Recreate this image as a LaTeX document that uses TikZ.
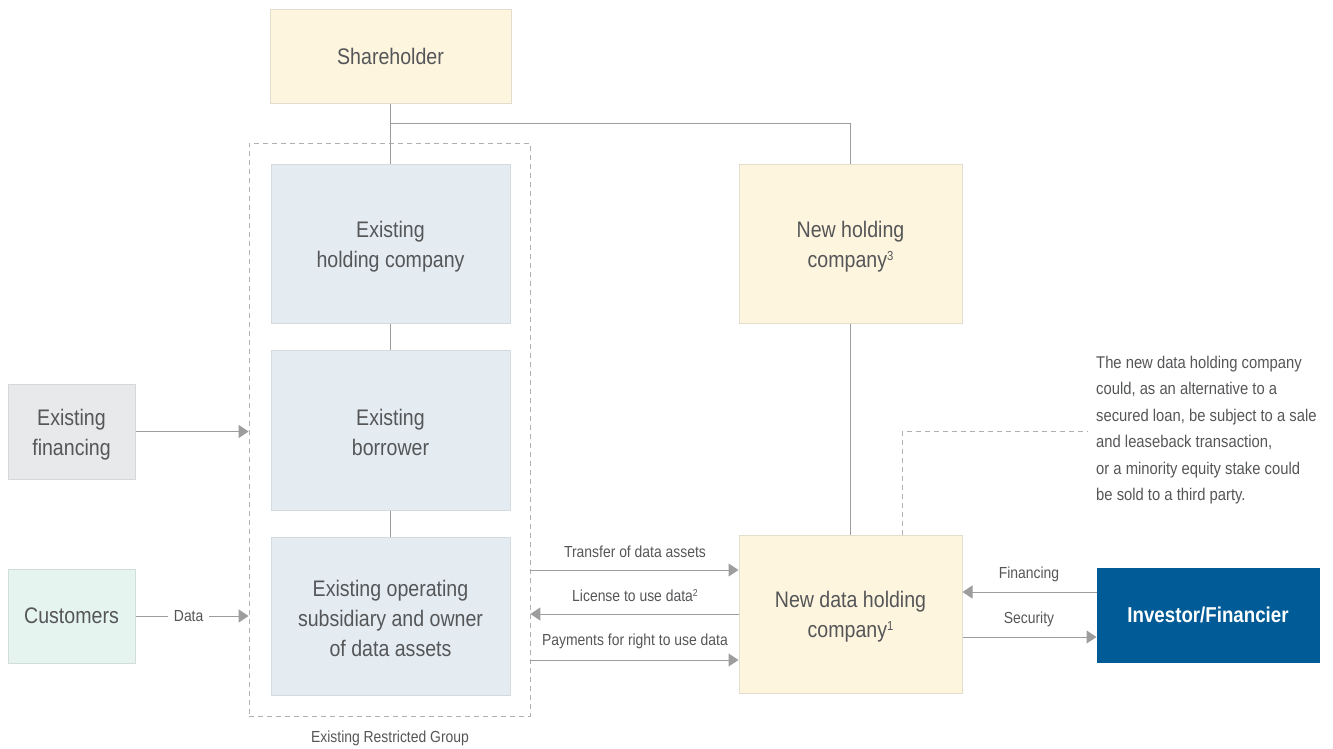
\documentclass[tikz,border=0pt]{standalone}
\usepackage{fontspec}
\setmainfont{Liberation Sans}[FakeStretch=0.87]
\usetikzlibrary{arrows.meta}
\definecolor{txt}{HTML}{555658}
\definecolor{ln}{HTML}{9D9D9D}
\definecolor{yfill}{HTML}{FEF5DF}
\definecolor{ydraw}{HTML}{E2DDCC}
\definecolor{bfill}{HTML}{E4ECF2}
\definecolor{bdraw}{HTML}{D3DBE1}
\definecolor{gfill}{HTML}{E8E9EA}
\definecolor{gdraw}{HTML}{D6D7D8}
\definecolor{mfill}{HTML}{E6F4F0}
\definecolor{mdraw}{HTML}{D3DED9}
\definecolor{navy}{HTML}{005B96}
\newcommand\supmark[1]{\raisebox{7pt}{\fontsize{13}{13}\selectfont #1}}
\newcommand\supsmall[1]{\raisebox{5pt}{\fontsize{10}{10}\selectfont #1}}
\newcommand\tp{\rule{0pt}{22pt}}
\begin{document}
\begin{tikzpicture}[x=1pt,y=-1pt,
  box/.style={draw, line width=1pt, inner sep=0pt, align=center, text=txt,
    font=\fontsize{22.5}{30}\selectfont},
  ybox/.style={box, fill=yfill, draw=ydraw},
  bbox/.style={box, fill=bfill, draw=bdraw},
  gbox/.style={box, fill=gfill, draw=gdraw},
  mbox/.style={box, fill=mfill, draw=mdraw},
  conn/.style={draw=ln, line width=1pt},
  arr/.style={conn, -{Triangle[length=10pt,width=13pt]}},
  lbl/.style={text=txt, inner sep=0pt, font=\fontsize{16}{18}\selectfont},
  grp/.style={draw=ln!80, dash pattern=on 5pt off 4pt, line width=0.8pt, inner sep=0pt}
]
\useasboundingbox (0,0) rectangle (1333,748);

\node[ybox, minimum width=241pt, minimum height=94pt] (sh) at (390.5,56) {Shareholder};
\node[bbox, minimum width=239pt, minimum height=159pt] (ehc) at (390.5,243.5) {\tp Existing\\holding company};
\node[bbox, minimum width=239pt, minimum height=160pt] (eb) at (390.5,430) {\tp Existing\\borrower};
\node[bbox, minimum width=239pt, minimum height=158pt] (eo) at (390.5,616) {\tp Existing operating\\subsidiary and owner\\of data assets};
\node[grp, minimum width=281pt, minimum height=573pt] (grp) at (389.5,429.5) {};
\node[lbl] (grplbl) at (390,738) {Existing Restricted Group};

\node[ybox, minimum width=223pt, minimum height=159pt] (nhc) at (850.5,243.5) {\tp New holding\\company\supmark{3}};
\node[ybox, minimum width=223pt, minimum height=158pt] (ndh) at (850.5,614) {\tp New data holding\\company\supmark{1}};
\node[box, fill=navy, draw=navy, text=white, font=\fontsize{21.5}{26}\selectfont\bfseries,
  minimum width=222pt, minimum height=94pt] (inv) at (1208,615) {Investor/Financier};

\node[gbox, minimum width=127pt, minimum height=95pt] (ef) at (71.5,431.5) {\tp Existing\\financing};
\node[mbox, minimum width=127pt, minimum height=94pt] (cu) at (71.5,616) {Customers};

% ownership lines
\coordinate (br) at (390.5,123);
\draw[conn] (sh.south) -- (ehc.north);
\draw[conn] (br) -| (nhc.north);
\draw[conn] (ehc.south) -- (eb.north);
\draw[conn] (eb.south) -- (eo.north);
\draw[conn] (nhc.south) -- (ndh.north);

% left arrows
\draw[arr] (ef.east) -- (ef.east -| grp.west);
\draw[arr] (cu.east) -- node[fill=white, inner xsep=6pt, inner ysep=2pt, text=txt, font=\fontsize{16}{18}\selectfont, pos=0.47] (datalbl) {Data} (cu.east -| grp.west);

% middle flows
\draw[arr] (grp.east |- 0,570) -- (ndh.west |- 0,570);
\node[lbl] (l1) at (635,552) {Transfer of data assets};
\draw[arr] (ndh.west |- 0,614) -- (grp.east |- 0,614);
\node[lbl] (l2) at (635,596) {License to use data\supsmall{2}};
\draw[arr] (grp.east |- 0,660) -- (ndh.west |- 0,660);
\node[lbl] (l3) at (635,641) {Payments for right to use data};

% right flows
\draw[arr] (inv.west |- 0,592) -- (ndh.east |- 0,592);
\node[lbl] (l4) at (1029,574) {Financing};
\draw[arr] (ndh.east |- 0,637) -- (inv.west |- 0,637);
\node[lbl] (l5) at (1029,619) {Security};

% annotation
\coordinate (nt) at (1088,431);
\draw[draw=ln!80, dash pattern=on 5pt off 4pt, line width=0.8pt] (ndh.north -| 902,0) |- (nt);
\node[text=txt, anchor=north west, inner sep=0pt, align=left,
  font=\fontsize{17}{26.4}\selectfont] (note) at (1096,356)
  {The new data holding company\\could, as an alternative to a\\secured loan, be subject to a sale\\and leaseback transaction,\\or a minority equity stake could\\be sold to a third party.};
\end{tikzpicture}
\end{document}
